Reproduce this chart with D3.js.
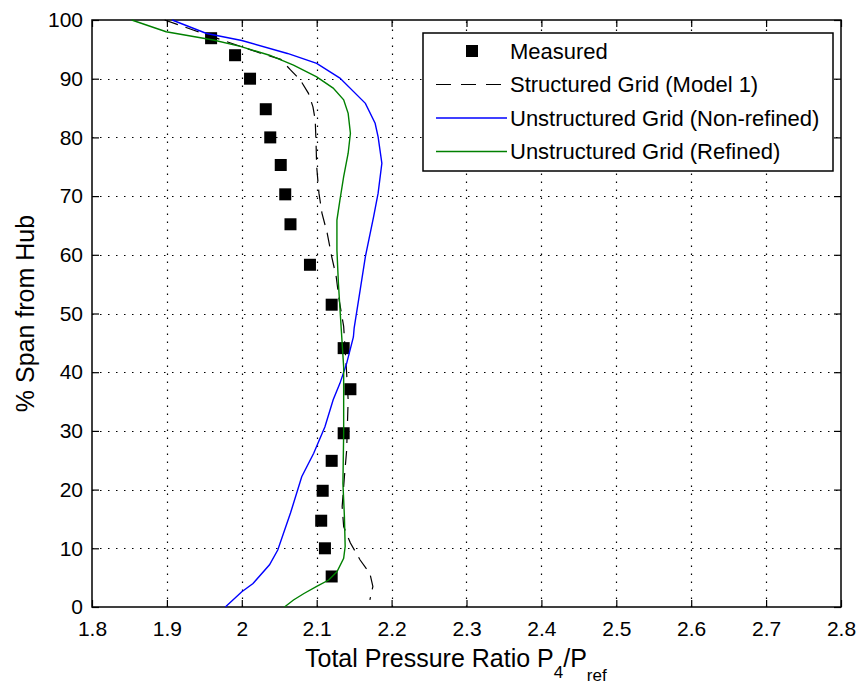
<!DOCTYPE html>
<html>
<head>
<meta charset="utf-8">
<script src="https://cdn.jsdelivr.net/npm/d3@7"></script>
<style>
  body { margin: 0; background: #fff; }
  text { font-family: "Liberation Sans", Arial, sans-serif; fill: #000; }
</style>
</head>
<body>
<svg id="chart" width="858" height="685"></svg>
<script>
// ---------- data ----------
const xTicks = [1.8, 1.9, 2.0, 2.1, 2.2, 2.3, 2.4, 2.5, 2.6, 2.7, 2.8];
const yTicks = [0, 10, 20, 30, 40, 50, 60, 70, 80, 90, 100];

const measuredX = [1.959, 1.991, 2.011, 2.032, 2.038, 2.052, 2.058, 2.065, 2.091, 2.120, 2.136, 2.145, 2.136, 2.120, 2.108, 2.106, 2.111, 2.120];
const measuredY = [96.9, 94.0, 90.0, 84.8, 80.0, 75.3, 70.3, 65.2, 58.3, 51.5, 44.1, 37.1, 29.6, 24.9, 19.8, 14.7, 10.0, 5.2];

const structuredX = [1.897, 1.935, 1.980, 2.024, 2.052, 2.065, 2.078, 2.089, 2.095, 2.098, 2.099, 2.100, 2.103, 2.107, 2.114, 2.120, 2.126, 2.130, 2.136, 2.140, 2.142, 2.140, 2.137, 2.134, 2.136, 2.145, 2.158, 2.171, 2.175, 2.171];
const structuredY = [100, 98.3, 96.3, 94.4, 93.3, 91.5, 89.8, 87.5, 85.2, 83.0, 79.6, 75.0, 70.5, 67.1, 63.7, 59.7, 56.3, 52.3, 47.8, 39.8, 35.3, 26.7, 22.2, 17.1, 13.7, 10.9, 8.0, 5.7, 3.5, 1.2];

const nonRefinedX = [1.907, 1.953, 2.000, 2.061, 2.100, 2.131, 2.165, 2.178, 2.182, 2.187, 2.182, 2.176, 2.165, 2.158, 2.150, 2.149, 2.140, 2.131, 2.122, 2.111, 2.096, 2.080, 2.065, 2.048, 2.037, 2.015, 2.000, 1.978];
const nonRefinedY = [100, 97.7, 96.5, 94.3, 92.6, 90.1, 85.8, 82.4, 80.1, 75.6, 70.5, 66.5, 59.7, 54.0, 47.5, 46.0, 41.5, 38.1, 35.3, 30.7, 26.2, 22.2, 16.0, 9.7, 7.2, 4.0, 2.6, 0];

const refinedX = [1.853, 1.899, 1.962, 1.998, 2.037, 2.069, 2.100, 2.122, 2.136, 2.142, 2.145, 2.142, 2.136, 2.131, 2.127, 2.127, 2.129, 2.132, 2.136, 2.136, 2.135, 2.137, 2.138, 2.136, 2.127, 2.116, 2.100, 2.083, 2.069, 2.057];
const refinedY = [100, 98.0, 96.6, 95.5, 94.0, 92.3, 90.3, 88.4, 86.4, 84.1, 80.7, 77.3, 73.3, 69.3, 65.9, 60.8, 55.1, 48.9, 40.9, 29.6, 21.1, 15.4, 10.3, 8.3, 6.0, 4.6, 3.5, 2.3, 1.2, 0];

const legendLabels = ["Measured", "Structured Grid (Model 1)", "Unstructured Grid (Non-refined)", "Unstructured Grid (Refined)"];

// ---------- layout ----------
const L = 92, R = 841, T = 20, B = 607;
const svg = d3.select("#chart");
const x = d3.scaleLinear().domain([1.8, 2.8]).range([L, R]);
const y = d3.scaleLinear().domain([0, 100]).range([B, T]);

// grid
const grid = svg.append("g").attr("stroke", "#000").attr("stroke-width", 1.2).attr("stroke-dasharray", "1.5,6.5");
grid.selectAll("line.vx").data(xTicks.slice(1, -1)).enter().append("line")
  .attr("x1", d => Math.round(x(d)) + 0.5).attr("x2", d => Math.round(x(d)) + 0.5)
  .attr("y1", B).attr("y2", T);
grid.selectAll("line.hy").data(yTicks.slice(1, -1)).enter().append("line")
  .attr("y1", d => Math.round(y(d)) + 0.5).attr("y2", d => Math.round(y(d)) + 0.5)
  .attr("x1", L).attr("x2", R);

// axes (ticks inward, on all sides)
const tk = 7;
const axB = svg.append("g").attr("transform", `translate(0,${B})`)
  .call(d3.axisBottom(x).tickValues(xTicks).tickSizeInner(-tk).tickSizeOuter(0).tickPadding(14).tickFormat(d => d3.format("")(+d.toFixed(1))));
const axT = svg.append("g").attr("transform", `translate(0,${T})`)
  .call(d3.axisTop(x).tickValues(xTicks).tickSizeInner(-tk).tickSizeOuter(0).tickFormat(""));
const axL = svg.append("g").attr("transform", `translate(${L},0)`)
  .call(d3.axisLeft(y).tickValues(yTicks).tickSizeInner(-tk).tickSizeOuter(0).tickPadding(9));
const axR = svg.append("g").attr("transform", `translate(${R},0)`)
  .call(d3.axisRight(y).tickValues(yTicks).tickSizeInner(-tk).tickSizeOuter(0).tickFormat(""));
[axB, axT, axL, axR].forEach(a => {
  a.select(".domain").remove();
  a.selectAll(".tick line").attr("stroke", "#000").attr("stroke-width", 1.2);
  a.selectAll("text").attr("font-size", 21).attr("font-family", "Liberation Sans, Arial, sans-serif").attr("fill", "#000");
});
axB.selectAll("text").attr("dy", "0.71em");

// box
svg.append("rect").attr("x", L).attr("y", T).attr("width", R - L).attr("height", B - T)
  .attr("fill", "none").attr("stroke", "#000").attr("stroke-width", 1.5);

// measured squares
const sq = 12;
svg.append("g").selectAll("rect").data(measuredX.map((v, i) => [v, measuredY[i]])).enter().append("rect")
  .attr("x", d => x(d[0]) - sq / 2).attr("y", d => y(d[1]) - sq / 2)
  .attr("width", sq).attr("height", sq).attr("fill", "#000");

// lines
const line = d3.line().x(d => x(d[0])).y(d => y(d[1]));
const zip = (a, b) => a.map((v, i) => [v, b[i]]);
svg.append("path").datum(zip(structuredX, structuredY)).attr("d", line)
  .attr("fill", "none").attr("stroke", "#000").attr("stroke-width", 1.2).attr("stroke-dasharray", "14,8");
svg.append("path").datum(zip(nonRefinedX, nonRefinedY)).attr("d", line)
  .attr("fill", "none").attr("stroke", "#0000ff").attr("stroke-width", 1.4);
svg.append("path").datum(zip(refinedX, refinedY)).attr("d", line)
  .attr("fill", "none").attr("stroke", "#008000").attr("stroke-width", 1.4);

// legend
const lg = svg.append("g");
lg.append("rect").attr("x", 423).attr("y", 33).attr("width", 410).attr("height", 138)
  .attr("fill", "#fff").attr("stroke", "#000").attr("stroke-width", 1.5);
const rowY = [51, 84.5, 118, 151.5];
lg.append("rect").attr("x", 472 - 6).attr("y", rowY[0] - 6).attr("width", 12).attr("height", 12).attr("fill", "#000");
lg.append("line").attr("x1", 436).attr("x2", 507).attr("y1", rowY[1]).attr("y2", rowY[1])
  .attr("stroke", "#000").attr("stroke-width", 1.2).attr("stroke-dasharray", "15,10");
lg.append("line").attr("x1", 436).attr("x2", 507).attr("y1", rowY[2]).attr("y2", rowY[2])
  .attr("stroke", "#0000ff").attr("stroke-width", 1.4);
lg.append("line").attr("x1", 436).attr("x2", 507).attr("y1", rowY[3]).attr("y2", rowY[3])
  .attr("stroke", "#008000").attr("stroke-width", 1.4);
lg.selectAll("text").data(legendLabels).enter().append("text")
  .attr("x", 510).attr("y", (d, i) => rowY[i]).attr("dy", "0.36em")
  .attr("font-size", 22).text(d => d);

// axis titles
const xt = svg.append("text").attr("x", 305).attr("y", 667).attr("font-size", 25);
xt.append("tspan").text("Total Pressure Ratio P");
xt.append("tspan").attr("font-size", 17).attr("dy", 11).text("4");
xt.append("tspan").attr("dy", -11).text("/P");
xt.append("tspan").attr("font-size", 17).attr("dy", 14).text("ref");

svg.append("text").attr("transform", `translate(34,${(T + B) / 2}) rotate(-90)`)
  .attr("text-anchor", "middle").attr("font-size", 25).text("% Span from Hub");
</script>
</body>
</html>
